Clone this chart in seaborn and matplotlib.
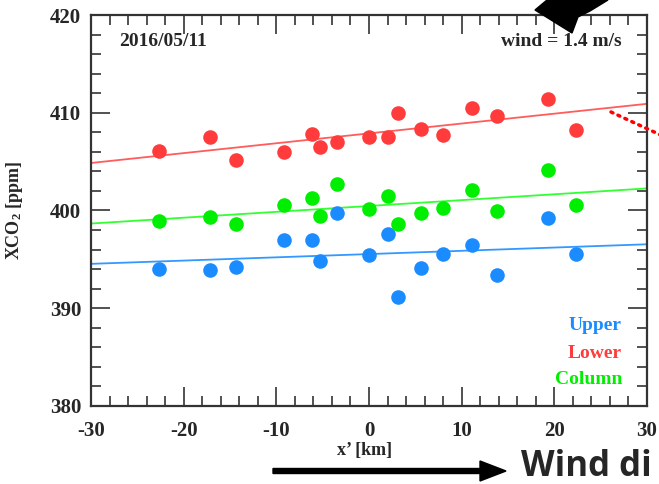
import numpy as np
import pandas as pd
import matplotlib
matplotlib.use("Agg")
import matplotlib.pyplot as plt
import seaborn as sns
from matplotlib.patches import Polygon, FancyArrow
from matplotlib.ticker import MultipleLocator

# distance along the wind direction [km]
x_km = [-22.7, -17.2, -14.4, -9.2, -6.1, -5.3, -3.5, 0.0,
        2.1, 3.1, 5.6, 8.0, 11.1, 13.8, 19.3, 22.3]
# XCO2 [ppm]
xco2_upper = [394.0, 393.9, 394.2, 397.0, 397.0, 394.8, 399.7, 395.4,
              397.6, 391.1, 394.1, 395.5, 396.5, 393.4, 399.2, 395.5]
xco2_lower = [406.1, 407.5, 405.2, 406.0, 407.8, 406.5, 407.0, 407.5,
              407.5, 410.0, 408.3, 407.7, 410.5, 409.7, 411.4, 408.2]
xco2_column = [398.9, 399.3, 398.6, 400.6, 401.3, 399.4, 402.7, 400.2,
               401.5, 398.6, 399.7, 400.3, 402.1, 399.9, 404.1, 400.6]

layers = ["Upper", "Lower", "Column"]
dot_colors = {"Upper": "#1a8cff", "Lower": "#ff3b3b", "Column": "#00ee00"}
line_colors = {"Upper": "#3399ff", "Lower": "#ff5c5c", "Column": "#33ff33"}

df = pd.DataFrame({
    "x": x_km * 3,
    "xco2": xco2_upper + xco2_lower + xco2_column,
    "layer": ["Upper"] * len(x_km) + ["Lower"] * len(x_km) + ["Column"] * len(x_km),
})

sns.set_style("ticks")
serif = ["Liberation Serif", "DejaVu Serif"]
plt.rcParams["font.family"] = serif
plt.rcParams["font.weight"] = "bold"
plt.rcParams["axes.unicode_minus"] = False
plt.rcParams["mathtext.default"] = "regular"

fig = plt.figure(figsize=(6.59, 4.84), dpi=100)
ax = fig.add_axes([0.1381, 0.1612, 0.9818 - 0.1381, 0.969 - 0.1612])
ax.set_xlim(-30, 30)
ax.set_ylim(380, 420)

for layer in layers:
    sub = df[df["layer"] == layer]
    sns.regplot(data=sub, x="x", y="xco2", ax=ax, ci=None, truncate=False,
                scatter_kws=dict(s=110, color=dot_colors[layer], linewidths=0, alpha=1, zorder=3),
                line_kws=dict(color=line_colors[layer], lw=1.3, zorder=2))

ax.set_xlim(-30, 30)
ax.set_ylim(380, 420)
ax.set_xlabel("")
ax.set_ylabel("")

ax.xaxis.set_major_locator(MultipleLocator(10))
ax.xaxis.set_minor_locator(MultipleLocator(2))
ax.yaxis.set_major_locator(MultipleLocator(10))
ax.yaxis.set_minor_locator(MultipleLocator(2))
ax.tick_params(which="both", direction="in", top=True, right=True, color="#333333", width=1.2)
ax.tick_params(which="major", length=14, labelsize=15)
ax.tick_params(axis="x", which="major", pad=11)
ax.tick_params(axis="y", which="major", pad=7)
ax.tick_params(which="minor", length=7)
for sp in ax.spines.values():
    sp.set_linewidth(1.6)
    sp.set_color("#333333")

ax.text(0.05, 0.955, "2016/05/11", transform=ax.transAxes, ha="left", va="top",
        fontweight="bold", fontsize=14)
ax.text(0.955, 0.955, "wind = 1.4 m/s", transform=ax.transAxes, ha="right", va="top",
        fontweight="bold", fontsize=14)
label_y = [0.207, 0.1355, 0.0665]
for layer, ly in zip(layers, label_y):
    ax.text(0.955, ly, layer, transform=ax.transAxes, ha="right", va="center",
            fontweight="bold", fontsize=14, color=dot_colors[layer])

fig.text(15 / 659, 1 - 210 / 484, r"XCO$_2$ [ppm]", rotation=90, ha="center", va="center",
         fontweight="bold", fontsize=13)
fig.text(365 / 659, 1 - 451 / 484, "x\u2019 [km]", ha="center", va="center",
         fontweight="bold", fontsize=13)

# decorations outside the plot
fig.patches.append(FancyArrow(273 / 659, 1 - 471 / 484, 207 / 659, 0, width=5 / 484,
                              head_width=20 / 484, head_length=26 / 659,
                              length_includes_head=False, color="black",
                              transform=fig.transFigure, figure=fig))
fig.text(521 / 659, 1 - 476 / 484, "Wind di", ha="left", va="baseline",
         family=["Open Sans", "DejaVu Sans"], fontweight="bold", fontsize=25)
arrow_pts = [(535, 10), (547, 0), (608, 0), (590, 11), (578, 17), (572, 33)]
fig.patches.append(Polygon([(px / 659, 1 - py / 484) for px, py in arrow_pts], closed=True,
                           color="black", transform=fig.transFigure, figure=fig))
fig.lines.append(plt.Line2D([611 / 659, 665 / 659], [1 - 112 / 484, 1 - 137 / 484],
                            transform=fig.transFigure, color="red", lw=2.5,
                            linestyle=(0, (0.6, 1.6)), dash_capstyle="round", figure=fig))

fig.savefig("out.png", dpi=100)
plt.close(fig)
